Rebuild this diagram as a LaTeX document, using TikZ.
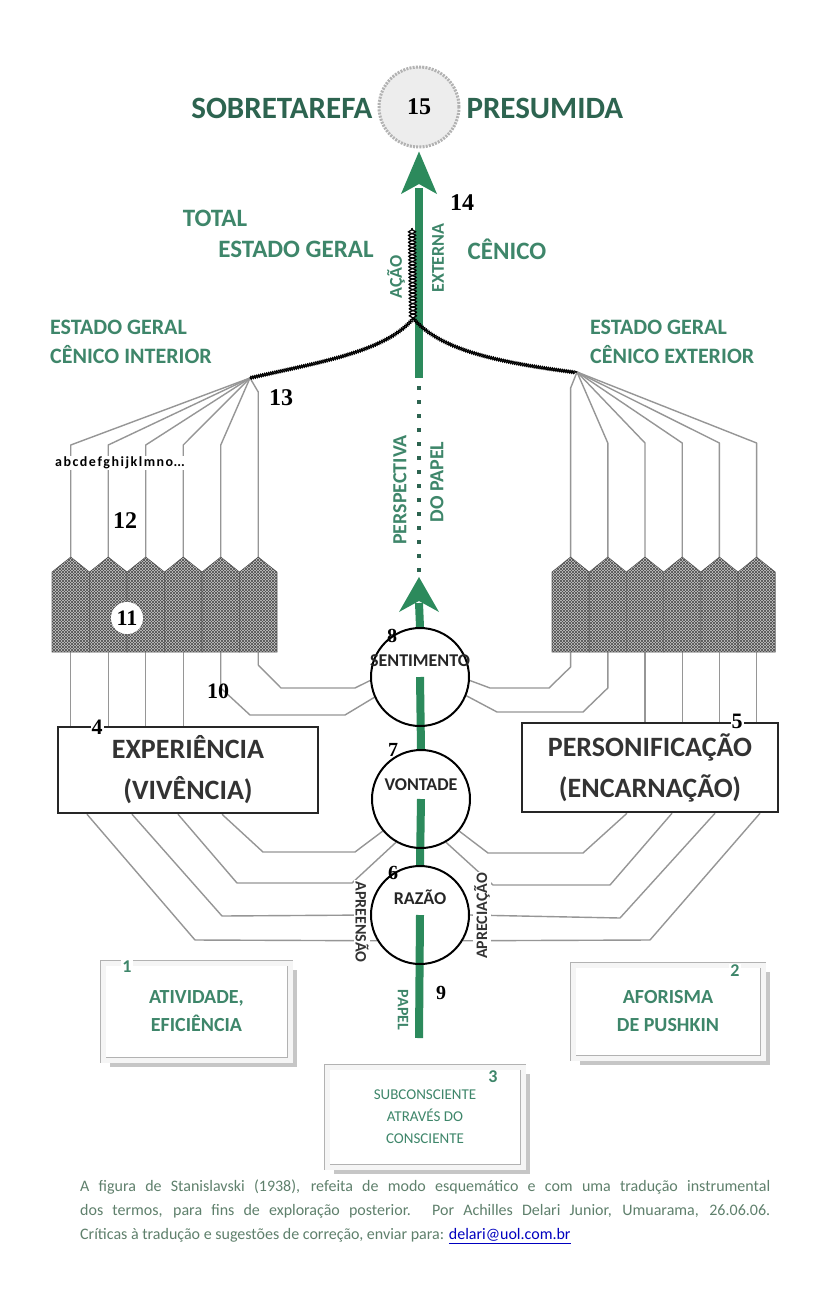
\documentclass[tikz,border=0pt]{standalone}
\usepackage{fontspec}
\setmainfont{Carlito}
\newfontfamily\numfont{Liberation Serif}
\usetikzlibrary{patterns,calc,decorations.pathmorphing,shadows}
\pgfdeclarelayer{back}
\pgfdeclarelayer{bg}
\pgfsetlayers{back,bg,main}
\definecolor{agreen}{RGB}{44,138,92}
\definecolor{tgreen}{RGB}{62,134,106}
\definecolor{dgreen}{RGB}{45,100,80}
\definecolor{lgray}{RGB}{150,150,150}
\definecolor{capgreen}{RGB}{95,128,108}
\tikzset{
  fs/.style={font=\bfseries\fontsize{#1}{#1}\selectfont},
  gtxt/.style={text=tgreen, inner sep=0pt},
  num/.style={font=\numfont\bfseries\fontsize{#1}{#1}\selectfont, inner sep=1pt},
  conn/.style={draw=lgray, line width=1.4pt, line join=round},
  ring/.style={circle, draw=black, line width=2pt, minimum size=98pt, inner sep=0pt},
  ctext/.style={fs=18, text=black!85, inner sep=1pt},
  shaft/.style={draw=agreen, line width=8pt},
  bigbox/.style={draw=black!85, line width=2.5pt, fill=white, align=center,
     font=\bfseries\fontsize{28}{41}\selectfont, text=black!80, inner sep=0pt},
  bevel/.style={draw=gray!60, double=gray!8, double distance=5pt, line width=0.8pt,
     fill=white, align=center, font=\bfseries\fontsize{20}{28}\selectfont, text=tgreen,
     drop shadow={shadow xshift=7pt, shadow yshift=-7pt, fill=gray!45, opacity=1}},
  block/.style={fill=gray!42, draw=black!60, line width=0.6pt,
     postaction={pattern=north east lines, pattern color=black!70},
     postaction={pattern=north west lines, pattern color=black!70}},
  rope/.style={draw=black, line width=1.1pt, decorate,
     decoration={snake, amplitude=1.4pt, segment length=4pt}},
  ropem/.style={draw=black, line width=1.1pt, decorate,
     decoration={snake, amplitude=1.4pt, segment length=4pt, mirror}},
  braid/.style={draw=black, line width=1.3pt, decorate,
     decoration={snake, amplitude=3.5pt, segment length=7pt}},
  braidm/.style={draw=black, line width=1.3pt, decorate,
     decoration={snake, amplitude=3.5pt, segment length=7pt, mirror}},
  side/.style={fs=16, text=black!80, fill=white, inner sep=1pt}
}
\begin{document}
\begin{tikzpicture}[x=1pt,y=-1pt]
\begin{pgfonlayer}{back}
\fill[white] (0,0) rectangle (839,1304);
\end{pgfonlayer}
\useasboundingbox (0,0) rectangle (839,1304);

% ---------- top ----------
\node[fs=31, text=dgreen, anchor=east] (sobre) at (376,108) {SOBRETAREFA};
\node[fs=31, text=dgreen, anchor=west] (presu) at (463,108) {PRESUMIDA};
\node[circle, minimum size=80pt, draw=gray!60, line width=3pt, dash pattern=on 2pt off 1.2pt,
      fill=gray!14, inner sep=0pt, num=24] (c15) at (419,107) {15};

\node[fs=25, gtxt] (total) at (215,218) {TOTAL};
\node[fs=25, gtxt] (estg) at (296,249) {ESTADO GERAL};
\node[fs=25, gtxt] (cenico) at (507,249) {CÊNICO};

\node[fs=22, gtxt, anchor=west] (eil1) at (50,327) {ESTADO GERAL};
\node[fs=22, gtxt, anchor=west] (eil2) at (50,355) {CÊNICO INTERIOR};
\node[fs=22, gtxt, anchor=west] (eel1) at (590,327) {ESTADO GERAL};
\node[fs=22, gtxt, anchor=west] (eel2) at (590,355) {CÊNICO EXTERIOR};

% ---------- rings ----------
\node[ring] (sent) at (420,677) {};
\node[ring] (vont) at (421,799) {};
\node[ring] (raz) at (420,915) {};

% ---------- blocks ----------
\foreach \i in {0,...,5}{
  \pgfmathsetmacro\xa{52+37.5*\i}
  \pgfmathsetmacro\xb{\xa+37.5}
  \pgfmathsetmacro\xc{\xa+18.75}
  \path[block] (\xa,652) -- (\xa,572) -- (\xc,557) -- (\xb,572) -- (\xb,652) -- cycle;
  \coordinate (lt\i) at (\xc,557);
  \coordinate (lb\i) at (\xc,652);
}
\foreach \i in {0,...,5}{
  \pgfmathsetmacro\xa{552+37.2*\i}
  \pgfmathsetmacro\xb{\xa+37.2}
  \pgfmathsetmacro\xc{\xa+18.6}
  \path[block] (\xa,652) -- (\xa,572) -- (\xc,557) -- (\xb,572) -- (\xb,652) -- cycle;
  \coordinate (rt\i) at (\xc,557);
  \coordinate (rb\i) at (\xc,652);
}
\node[circle, fill=white, minimum size=32pt, inner sep=0pt, num=22] (n11) at (127,618) {11};

% ---------- boxes ----------
\node[bigbox, minimum width=260pt, minimum height=86pt] (exp) at (188,770) {EXPERIÊNCIA\\(VIVÊNCIA)};
\node[bigbox, minimum width=256pt, minimum height=89pt] (pers) at (650,767.5) {PERSONIFICAÇÃO\\(ENCARNAÇÃO)};

\node[bevel, minimum width=187pt, minimum height=97pt] (b1) at (196.5,1011.5) {ATIVIDADE,\\EFICIÊNCIA};
\node[bevel, minimum width=190pt, minimum height=93pt] (b2) at (668,1011.5) {AFORISMA\\DE PUSHKIN};
\node[bevel, minimum width=196pt, minimum height=100pt, font=\mdseries\fontsize{15}{22}\selectfont] (b3) at (425,1117) {SUBCONSCIENTE\\ATRAVÉS DO\\CONSCIENTE};

% ---------- connectors (background) ----------
\coordinate (convL) at (250,378);
\coordinate (convR) at (577,372);
\coordinate (knot) at (413,318);
\coordinate (braidtop) at (412,228);
\begin{pgfonlayer}{bg}
  \draw[shaft] (419,188) -- (419,378);
  \draw[shaft] (419,603) -- (sent.north);
  \draw[shaft] (sent.center) -- (vont.north);
  \draw[shaft] (vont.center) -- (raz.north);
  \draw[shaft] (raz.center) -- (419,1038) coordinate (papelend);
  \foreach \i in {0,...,4} \draw[conn] (lt\i) -- (lt\i |- 0,445) -- (convL);
  \draw[conn] (lt5) -- (lt5 |- 0,392) -- (convL);
  \draw[conn] (rt0) -- (rt0 |- 0,388) -- (convR);
  \foreach \i in {1,...,5} \draw[conn] (rt\i) -- (rt\i |- 0,443) -- (convR);
  \foreach \i in {0,...,3} \draw[conn] (lb\i) -- (lb\i |- exp.north);
  \draw[conn] (lb4) -- (lb4 |- 0,688) -- (250,715) -- (345,715) -- (sent.204);
  \draw[conn] (lb5) -- (lb5 |- 0,665) -- (281,688) -- (355,688) -- (sent.184);
  \draw[conn] (rb0) -- (rb0 |- 0,667) -- (549,688) -- (490,688) -- (sent.-4);
  \draw[conn] (rb1) -- (rb1 |- 0,688) -- (583,712) -- (497,712) -- (sent.-22);
  \foreach \i in {2,...,5} \draw[conn] (rb\i) -- (rb\i |- pers.north);
  \draw[conn] (exp.south -| 222,0) -- (263,852) -- (355,852) -- (vont.220);
  \draw[conn] (exp.south -| 178,0) -- (237,883) -- (352,883) -- (vont.240);
  \draw[conn] (exp.south -| 132,0) -- (222,916) -- (raz.180);
  \draw[conn] (exp.south -| 87,0) -- (195,940) -- (raz.211);
  \draw[conn] (pers.south -| 627,0) -- (583,853) -- (488,853) -- (vont.-40);
  \draw[conn] (pers.south -| 672,0) -- (610,885) -- (493,885) -- (vont.-60);
  \draw[conn] (pers.south -| 715,0) -- (620,918) -- (raz.0);
  \draw[conn] (pers.south -| 760,0) -- (650,940) -- (raz.-31);
\end{pgfonlayer}

% ---------- arrowheads and dots ----------
\fill[agreen] (c15.south) ++(0,3) -- (437,194) -- (419,184) -- (401,194) -- cycle;
\foreach \y in {386,400,...,568} \fill[dgreen] (417.3,\y) rectangle ++(3.6,3.6);
\fill[agreen] (419,577) -- (439,612) -- (419,601) -- (399,612) -- cycle;

% ---------- ropes ----------
\draw[rope] (convL) .. controls (320,362) and (385,352) .. (knot);
\draw[ropem] (convL) .. controls (320,362) and (385,352) .. (knot);
\draw[rope] (knot) .. controls (440,350) and (500,362) .. (convR);
\draw[ropem] (knot) .. controls (440,350) and (500,362) .. (convR);
\draw[braid] (knot) -- (braidtop);
\draw[braidm] (knot) -- (braidtop);

% ---------- rotated labels ----------
\node[fs=18, gtxt, rotate=90] (acao) at (396,277) {AÇÃO};
\node[fs=18, gtxt, rotate=90] (ext) at (438,258) {EXTERNA};
\node[fs=20, gtxt, rotate=90] (persp) at (400,490) {PERSPECTIVA};
\node[fs=20, gtxt, rotate=90] (dopapel) at (437,482) {DO PAPEL};
\node[side, rotate=-90] (apre) at (362,922) {APREENSÃO};
\node[side, rotate=90] (apci) at (482,916) {APRECIAÇÃO};
\node[fs=16, text=tgreen, rotate=-90, inner sep=0pt] (papel) at (403,1010) {PAPEL};

% ---------- ring texts ----------
\node[ctext] (tsent) at (420,661) {SENTIMENTO};
\node[ctext] (tvont) at (421,785) {VONTADE};
\node[ctext] (traz) at (420,897) {RAZÃO};

% ---------- letter row ----------
\node[fs=14, fill=white, inner sep=1pt, anchor=west] (letters) at (54,463)
  {a\kern1.5pt b\kern1.5pt c\kern1.5pt d\kern1.5pt e\kern1.5pt f\kern1.5pt g\kern1.5pt h\kern1.5pt i\kern1.5pt j\kern1.5pt k\kern1.5pt l\kern1.5pt m\kern1.5pt n\kern1.5pt o\kern0.5pt...};

% ---------- numbers ----------
\node[num=24] (n14) at (462,203) {14};
\node[num=24] (n13) at (281,398) {13};
\node[num=24] (n12) at (125,521) {12};
\node[num=22] (n10) at (218,691) {10};
\node[num=22, fill=white] (n4) at (97,727) {4};
\node[num=22, fill=white] (n5) at (737,721) {5};
\node[num=20] (n8) at (392,636) {8};
\node[num=20] (n7) at (393,750) {7};
\node[num=20] (n6) at (393,873) {6};
\node[num=20] (n9) at (441,993) {9};
\node[fs=18, text=tgreen, fill=white, inner sep=1pt] (n1) at (127,967) {1};
\node[fs=18, text=tgreen, fill=white, inner sep=1pt] (n2) at (735,971) {2};
\node[fs=18, text=tgreen, fill=white, inner sep=1pt] (n3) at (493,1077) {3};

% ---------- caption ----------
\node[anchor=north west, text width=690pt, align=justify, inner sep=0pt, text=capgreen,
      font=\fontsize{16}{24}\selectfont] (cap) at (80,1180)
  {A figura de Stanislavski (1938), refeita de modo esquemático e com uma tradução instrumental\linebreak
   dos termos, para fins de exploração posterior. Por Achilles Delari Junior, Umuarama, 26.06.06.\linebreak
   Críticas à tradução e sugestões de correção, enviar para: {\color{blue!75!black}\underline{delari@uol.com.br}}};
\end{tikzpicture}
\end{document}
